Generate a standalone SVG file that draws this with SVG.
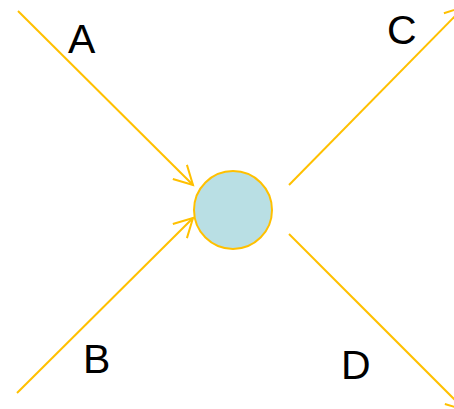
<svg xmlns="http://www.w3.org/2000/svg" width="454" height="409" viewBox="0 0 454 409">
<style>
.edge{stroke:#FFC000;stroke-width:2;fill:none}
.lbl{font-family:"Liberation Sans",Arial,sans-serif;font-size:41px;fill:#000}
</style>
<defs>
<marker id="arr" markerUnits="userSpaceOnUse" markerWidth="30" markerHeight="30" viewBox="-25 -15 30 30" refX="0" refY="0" orient="auto" overflow="visible">
<path d="M-18.5,-10 L0,0 L-18.5,10" fill="none" stroke="#FFC000" stroke-width="2"/>
</marker>
</defs>
<rect width="454" height="409" fill="#fff"/>
<g id="connectors">
<line class="edge" x1="18" y1="11" x2="193" y2="185" marker-end="url(#arr)"/>
<line class="edge" x1="17" y1="393" x2="193" y2="218" marker-end="url(#arr)"/>
<line class="edge" x1="289" y1="185" x2="464" y2="7" marker-end="url(#arr)"/>
<line class="edge" x1="289" y1="234" x2="465" y2="410" marker-end="url(#arr)"/>
</g>
<g id="node-center">
<circle cx="233" cy="210" r="39" fill="#B9DFE4" stroke="#FFC000" stroke-width="2"/>
</g>
<g id="label-A"><text class="lbl" x="68" y="53">A</text></g>
<g id="label-B"><text class="lbl" x="83" y="373">B</text></g>
<g id="label-C"><text class="lbl" x="387" y="44">C</text></g>
<g id="label-D"><text class="lbl" x="341" y="379">D</text></g>
</svg>
